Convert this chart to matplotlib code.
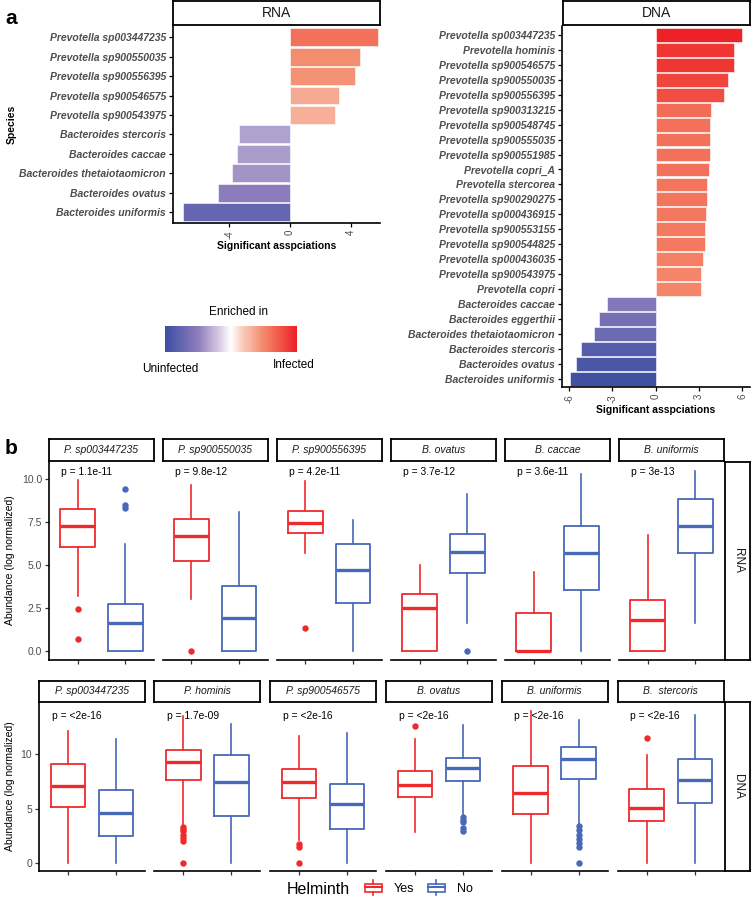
import numpy as np
import matplotlib
matplotlib.use('Agg')
import matplotlib.pyplot as plt
from matplotlib.colors import LinearSegmentedColormap, Normalize
from matplotlib.colorbar import ColorbarBase
from matplotlib.legend_handler import HandlerBase
from matplotlib.patches import Patch, Rectangle
from matplotlib.lines import Line2D

plt.rcParams['font.family'] = ['Liberation Sans', 'DejaVu Sans']

# ---- panel a data (top to bottom) ----
rna_species = ['Prevotella sp003447235', 'Prevotella sp900550035', 'Prevotella sp900556395',
               'Prevotella sp900546575', 'Prevotella sp900543975', 'Bacteroides stercoris',
               'Bacteroides caccae', 'Bacteroides thetaiotaomicron', 'Bacteroides ovatus',
               'Bacteroides uniformis']
rna_assoc = [5.79, 4.60, 4.30, 3.22, 2.98, -3.33, -3.51, -3.84, -4.76, -7.06]

dna_species = ['Prevotella sp003447235', 'Prevotella hominis', 'Prevotella sp900546575',
               'Prevotella sp900550035', 'Prevotella sp900556395', 'Prevotella sp900313215',
               'Prevotella sp900548745', 'Prevotella sp900555035', 'Prevotella sp900551985',
               'Prevotella copri_A', 'Prevotella stercorea', 'Prevotella sp900290275',
               'Prevotella sp000436915', 'Prevotella sp900553155', 'Prevotella sp900544825',
               'Prevotella sp000436035', 'Prevotella sp900543975', 'Prevotella copri',
               'Bacteroides caccae', 'Bacteroides eggerthii', 'Bacteroides thetaiotaomicron',
               'Bacteroides stercoris', 'Bacteroides ovatus', 'Bacteroides uniformis']
dna_assoc = [5.96, 5.43, 5.43, 4.99, 4.73, 3.86, 3.76, 3.74, 3.74, 3.69, 3.58, 3.58,
             3.51, 3.44, 3.44, 3.25, 3.14, 3.14, -3.37, -3.93, -4.28, -5.15, -5.54, -5.94]

# ---- panel b data: [whisker low, Q1, median, Q3, whisker high] ----
rna_titles = ['P. sp003447235', 'P. sp900550035', 'P. sp900556395', 'B. ovatus', 'B. caccae', 'B. uniformis']
rna_pvals = ['1.1e-11', '9.8e-12', '4.2e-11', '3.7e-12', '3.6e-11', '3e-13']
rna_yes = [[3.21, 6.05, 7.27, 8.24, 9.94], [3.02, 5.23, 6.67, 7.69, 9.65], [5.72, 6.86, 7.42, 8.16, 9.90],
           [0, 0, 2.48, 3.33, 5.02], [0, 0, 0, 2.19, 4.61], [0, 0, 1.80, 2.97, 6.73]]
rna_yes_out = [[2.46, 0.68], [0.0], [1.36], [], [], []]
rna_no = [[0, 0, 1.61, 2.75, 6.22], [0, 0, 1.94, 3.80, 8.06], [0, 2.81, 4.73, 6.24, 7.62],
          [1.61, 4.55, 5.74, 6.82, 9.11], [0, 3.55, 5.68, 7.29, 10.29], [1.61, 5.70, 7.27, 8.82, 10.47]]
rna_no_out = [[9.40, 8.49, 8.30], [], [], [0.0], [], []]

dna_titles = ['P. sp003447235', 'P. hominis', 'P. sp900546575', 'B. ovatus', 'B. uniformis', 'B.  stercoris']
dna_pvals = ['<2e-16', '1.7e-09', '<2e-16', '<2e-16', '<2e-16', '<2e-16']
dna_yes = [[0, 5.17, 7.10, 9.08, 12.18], [3.48, 7.60, 9.30, 10.42, 13.50], [2.09, 5.94, 7.42, 8.70, 11.69],
           [2.86, 6.06, 7.14, 8.49, 11.41], [0, 4.55, 6.49, 8.89, 14.00], [0, 3.87, 5.11, 6.83, 9.94]]
dna_yes_out = [[], [3.3, 3.1, 2.9, 2.6, 2.3, 2.0, 0.0], [1.79, 1.48, 0.0], [12.64], [], [11.53]]
dna_no = [[0, 2.46, 4.61, 6.68, 11.44], [0, 4.34, 7.47, 9.96, 12.80], [0, 3.11, 5.39, 7.29, 12.00],
          [4.46, 7.54, 8.74, 9.69, 12.70], [3.63, 7.72, 9.57, 10.70, 13.13], [0, 5.53, 7.66, 9.57, 13.62]]
dna_no_out = [[], [], [], [4.2, 4.0, 3.8, 3.2, 2.9], [3.4, 3.0, 2.6, 2.2, 1.8, 1.5, 0.0], []]

W, H = 751, 900
RED = '#EF2A2D'
BLUE = '#4868B8'
GREY = '#4D4D4D'
cmap = LinearSegmentedColormap.from_list('enr', [
    (0.0, '#3C4FA3'), (0.25, '#8D7DBB'), (0.42, '#DCD0E6'), (0.5, '#FFFFFF'),
    (0.58, '#FAD0C0'), (0.75, '#F4886A'), (1.0, '#EE1F24')])

fig = plt.figure(figsize=(W / 100, H / 100), dpi=100)


def px_axes(x0, y0, x1, y1):
    return fig.add_axes([x0 / W, 1 - y1 / H, (x1 - x0) / W, (y1 - y0) / H])


def strip(x0, y0, x1, y1, label, rot=0, italic=False, size=7.5):
    s = px_axes(x0, y0, x1, y1)
    s.set_xticks([])
    s.set_yticks([])
    for sp in s.spines.values():
        sp.set_linewidth(1.3)
    s.text(0.5, 0.5, label, ha='center', va='center', rotation=rot, fontsize=size,
           style='italic' if italic else 'normal', color='#1A1A1A', transform=s.transAxes)
    return s


def bar_panel(box, species, assoc, lim, xlim, ticks, norm_lim):
    ax = px_axes(*box)
    y = np.arange(len(species))[::-1]
    norm = Normalize(-norm_lim, norm_lim)
    ax.barh(y, assoc, height=0.92, color=cmap(norm(np.array(assoc))), edgecolor='white', linewidth=0.4)
    ax.set_xlim(*xlim)
    ax.set_ylim(*lim)
    ax.set_yticks(y)
    ax.set_yticklabels(species, fontsize=7.5, fontweight='bold', style='italic', color=GREY)
    ax.set_xticks(ticks)
    ax.set_xticklabels([str(t) for t in ticks], rotation=90, fontsize=7, color=GREY)
    for side in ('top', 'right'):
        ax.spines[side].set_visible(False)
    for side in ('left', 'bottom'):
        ax.spines[side].set_linewidth(1.2)
    ax.tick_params(length=3, width=0.9, pad=2)
    ax.set_xlabel('Significant asspciations', fontsize=7.5, fontweight='bold', labelpad=2)
    return ax


# ---- panel a ----
ax_rna = bar_panel((173, 26, 380, 223), rna_species, rna_assoc, (-0.567, 9.58), (-7.7, 5.92), [-4, 0, 4], 9.5)
strip(173, 1, 380, 25, 'RNA', size=10)
ax_rna.set_ylabel('Species', fontsize=7.5, fontweight='bold', labelpad=2)

ax_dna = bar_panel((562, 26, 750, 387), dna_species, dna_assoc, (-0.556, 23.6), (-6.49, 6.53), [-6, -3, 0, 3, 6], 6.1)
strip(562.7, 1, 749.5, 25, 'DNA', size=10)

cax = px_axes(165, 326, 297, 352)
cb = ColorbarBase(cax, cmap=cmap, orientation='horizontal')
cb.set_ticks([])
cb.outline.set_visible(False)
fig.text(238.7 / W, 1 - 312 / H, 'Enriched in', ha='center', va='center', fontsize=8.5)
fig.text(198 / W, 1 - 369 / H, 'Uninfected', ha='right', va='center', fontsize=8.5)
fig.text(294 / W, 1 - 365 / H, 'Infected', ha='center', va='center', fontsize=8.5)

fig.text(5 / W, 1 - 18 / H, 'a', fontsize=15, fontweight='bold', va='center')
fig.text(5 / W, 1 - 448 / H, 'b', fontsize=15, fontweight='bold', va='center')


# ---- panel b ----
def box_panel(ax, yes, yes_out, no, no_out, ylim, yticks, ytl, ptext, py, first):
    stats = []
    for s, out in ((yes, yes_out), (no, no_out)):
        lo, q1, med, q3, hi = s
        stats.append(dict(whislo=lo, q1=q1, med=med, q3=q3, whishi=hi, fliers=out))
    bp = ax.bxp(stats, positions=[1, 2], widths=0.72, showcaps=False)
    for i, c in enumerate((RED, BLUE)):
        bp['boxes'][i].set(color=c, linewidth=1.3)
        bp['medians'][i].set(color=c, linewidth=2.4, solid_capstyle='butt')
        for w in bp['whiskers'][2 * i:2 * i + 2]:
            w.set(color=c, linewidth=1.2)
        bp['fliers'][i].set(marker='o', markersize=4.6, markerfacecolor=c, markeredgecolor='none')
    ax.set_xlim(0.4, 2.6)
    ax.set_ylim(*ylim)
    ax.set_xticks([1, 2])
    ax.set_xticklabels(['', ''])
    ax.set_yticks(yticks)
    ax.set_yticklabels(ytl, fontsize=7.5, color=GREY)
    ax.spines['top'].set_visible(False)
    ax.spines['right'].set_visible(False)
    ax.spines['bottom'].set_linewidth(1.2)
    ax.spines['left'].set_linewidth(1.2)
    if not first:
        ax.spines['left'].set_visible(False)
        ax.tick_params(axis='y', left=False, labelleft=False)
    ax.tick_params(length=3, width=0.9, pad=2, color='#333333')
    ax.text(0.66, py, 'p = ' + ptext, fontsize=7.4, va='center', ha='left')


rna_x = [49, 162.7, 276.7, 391, 505, 619]
for k in range(6):
    x0 = rna_x[k]
    ax = px_axes(x0, 461, x0 + 105, 660)
    box_panel(ax, rna_yes[k], rna_yes_out[k], rna_no[k], rna_no_out[k], (-0.52, 11.05),
              [0, 2.5, 5, 7.5, 10], ['0.0', '2.5', '5.0', '7.5', '10.0'], rna_pvals[k], 10.4, k == 0)
    strip(x0, 439, x0 + 105, 461, rna_titles[k], italic=True)
strip(725, 462, 750, 660, 'RNA', rot=-90, size=8.5)

dna_x = [39, 154.3, 270, 386, 501.7, 617.7]
for k in range(6):
    x0 = dna_x[k]
    w = 106 if k < 5 else 106.3
    ax = px_axes(x0, 702, x0 + w, 871)
    box_panel(ax, dna_yes[k], dna_yes_out[k], dna_no[k], dna_no_out[k], (-0.74, 14.83),
              [0, 5, 10], ['0', '5', '10'], dna_pvals[k], 13.55, k == 0)
    strip(x0, 681, x0 + w, 702, dna_titles[k], italic=True)
strip(725, 702, 750, 871, 'DNA', rot=-90, size=8.5)

fig.text(10 / W, 1 - 560 / H, 'Abundance (log normalized)', rotation=90, ha='center', va='center', fontsize=7.5)
fig.text(10 / W, 1 - 786 / H, 'Abundance (log normalized)', rotation=90, ha='center', va='center', fontsize=7.5)


# legend with small boxplot keys
class BoxKey(HandlerBase):
    def create_artists(self, legend, orig_handle, xd, yd, width, height, fontsize, trans):
        c = orig_handle.get_edgecolor()
        bw = width * 0.9
        x0 = xd + (width - bw) / 2
        rect = Rectangle((x0, yd + height * 0.15 - 1), bw, height * 0.9, facecolor='white',
                         edgecolor=c, linewidth=1.2, transform=trans)
        mid = Line2D([x0, x0 + bw], [yd + height * 0.55] * 2, color=c, linewidth=1.5, transform=trans)
        wx = xd + width / 2
        top = Line2D([wx, wx], [yd + height * 1.05 - 1, yd + height * 1.35], color=c, linewidth=1.2, transform=trans)
        bot = Line2D([wx, wx], [yd - 0.35 * height, yd + height * 0.15 - 1], color=c, linewidth=1.2, transform=trans)
        return [rect, mid, top, bot]


fig.text(287 / W, 1 - 889 / H, 'Helminth', fontsize=11.5, va='center')
handles = [Patch(facecolor='white', edgecolor=RED), Patch(facecolor='white', edgecolor=BLUE)]
fig.legend(handles, ['Yes', 'No'], ncol=2, loc='center left', bbox_to_anchor=(355 / W, 1 - 889 / H),
           frameon=False, fontsize=9, handler_map={Patch: BoxKey()}, handlelength=1.5,
           handletextpad=0.9, columnspacing=1.0, borderpad=0.2)

fig.savefig('out.png', dpi=100)
